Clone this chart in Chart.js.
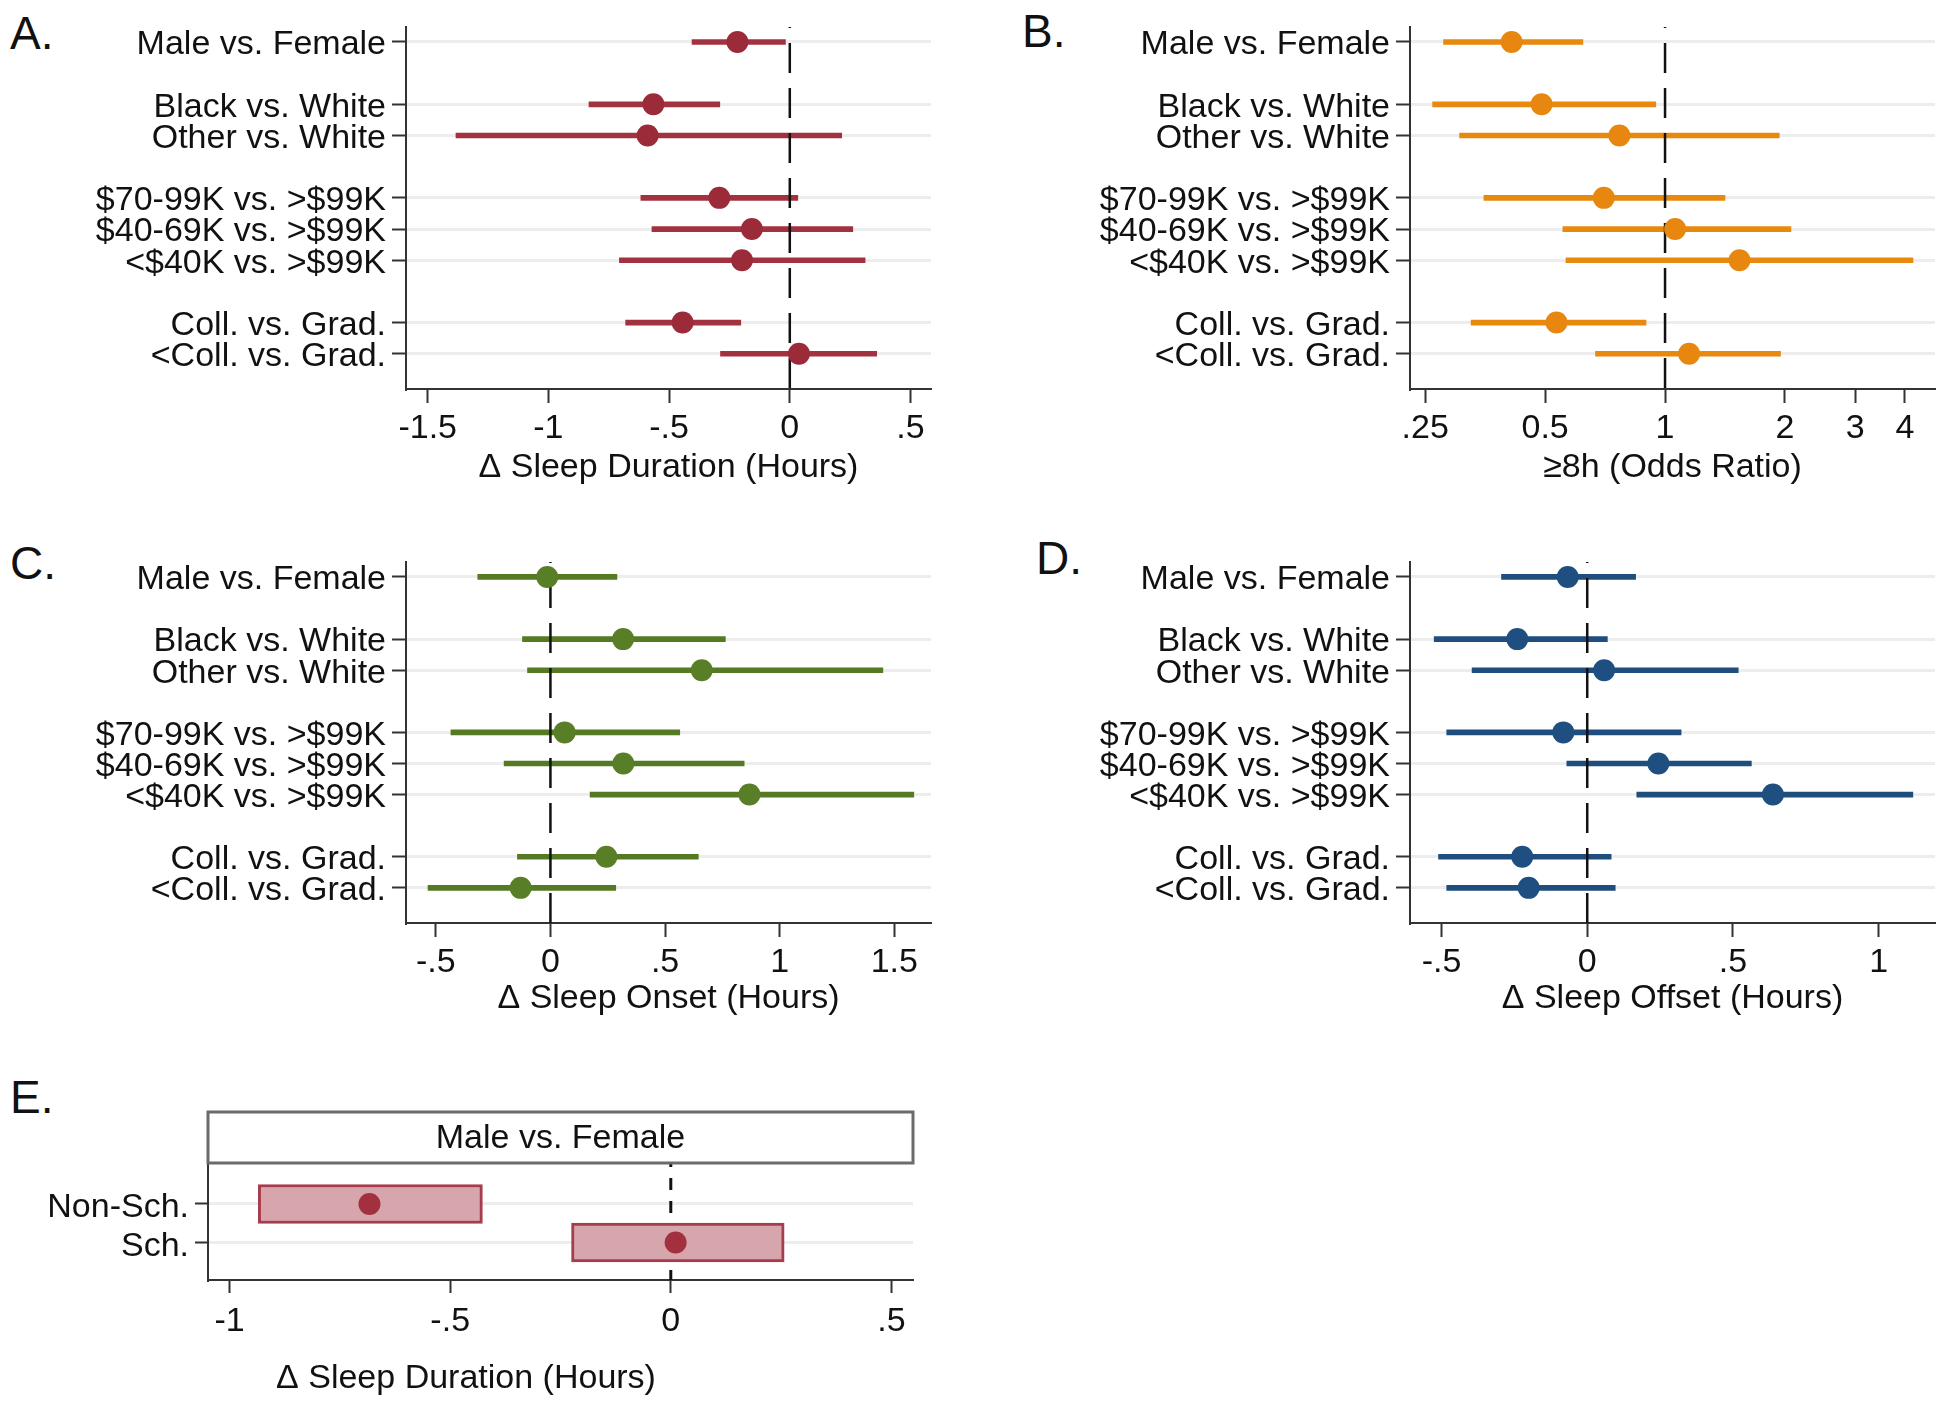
<!DOCTYPE html>
<html>
<head>
<meta charset="utf-8">
<script src="https://cdn.jsdelivr.net/npm/chart.js@4.4.1/dist/chart.umd.min.js"></script>
<style>
  body { margin: 0; background: #fff; }
  #wrap { position: relative; width: 1950px; height: 1408px; background: #fff; font-family: "Liberation Sans", Arial, sans-serif; }
  #wrap canvas { position: absolute; }
  .tag { position: absolute; font-size: 46px; line-height: 46px; color: #111; }
</style>
</head>
<body>
<div id="wrap">
  <div class="tag" style="left:10px;top:10px">A.</div>
  <div class="tag" style="left:1022px;top:8px">B.</div>
  <div class="tag" style="left:10px;top:540px">C.</div>
  <div class="tag" style="left:1036px;top:535px">D.</div>
  <div class="tag" style="left:10px;top:1074px">E.</div>
  <canvas id="chartA" width="975" height="500" style="left:0;top:0"></canvas>
  <canvas id="chartB" width="975" height="500" style="left:975px;top:0"></canvas>
  <canvas id="chartC" width="975" height="500" style="left:0;top:535px"></canvas>
  <canvas id="chartD" width="975" height="500" style="left:975px;top:535px"></canvas>
  <canvas id="chartE" width="932" height="368" style="left:0;top:1040px"></canvas>
</div>
<script>
const FONT = '"Liberation Sans", Arial, sans-serif';

// comparison groups (one empty row between groups)
const rowGroups = [
    ['Male vs. Female'],
    ['Black vs. White', 'Other vs. White'],
    ['$70-99K vs. >$99K', '$40-69K vs. >$99K', '<$40K vs. >$99K'],
    ['Coll. vs. Grad.', '<Coll. vs. Grad.']
];

// A. sleep duration (hours)
const durEst = [-0.217, -0.565, -0.589, -0.292, -0.157, -0.198, -0.444, 0.038];
const durLo  = [-0.405, -0.832, -1.383, -0.617, -0.571, -0.706, -0.680, -0.287];
const durHi  = [-0.018, -0.290,  0.215,  0.033,  0.261,  0.312, -0.203,  0.360];
const durTicks = [-1.5, -1, -0.5, 0, 0.5];
const durTickLabels = ['-1.5', '-1', '-.5', '0', '.5'];

// B. >=8h odds ratio
const oddsEst = [0.412, 0.490, 0.768, 0.702, 1.060, 1.538, 0.534, 1.149];
const oddsLo  = [0.278, 0.261, 0.305, 0.351, 0.554, 0.564, 0.326, 0.669];
const oddsHi  = [0.622, 0.948, 1.935, 1.414, 2.070, 4.190, 0.896, 1.949];
const oddsTicks = [0.25, 0.5, 1, 2, 3, 4];
const oddsTickLabels = ['.25', '0.5', '1', '2', '3', '4'];

// C. sleep onset (hours)
const onsetEst = [-0.014, 0.317, 0.660, 0.062, 0.318, 0.868, 0.244, -0.130];
const onsetLo  = [-0.317, -0.122, -0.100, -0.434, -0.202, 0.173, -0.144, -0.534];
const onsetHi  = [0.290, 0.763, 1.450, 0.564, 0.845, 1.585, 0.645, 0.285];
const onsetTicks = [-0.5, 0, 0.5, 1, 1.5];
const onsetTickLabels = ['-.5', '0', '.5', '1', '1.5'];

// D. sleep offset (hours)
const offsetEst = [-0.067, -0.240, 0.058, -0.082, 0.244, 0.637, -0.223, -0.201];
const offsetLo  = [-0.294, -0.525, -0.395, -0.482, -0.070, 0.170, -0.510, -0.482];
const offsetHi  = [0.166, 0.069, 0.518, 0.322, 0.563, 1.117, 0.082, 0.096];
const offsetTicks = [-0.5, 0, 0.5, 1];
const offsetTickLabels = ['-.5', '0', '.5', '1'];

// E. male vs female by school status
const schoolRows = ['Non-Sch.', 'Sch.'];
const schoolEst = [-0.683, 0.011];
const schoolLo  = [-0.935, -0.225];
const schoolHi  = [-0.427, 0.257];
const schoolTicks = [-1, -0.5, 0, 0.5];
const schoolTickLabels = ['-1', '-.5', '0', '.5'];

// row index of every comparison, skipping one slot between groups
const rowLabels = [];
const rowPos = [];
let slot = 0;
rowGroups.forEach(g => {
    g.forEach(lab => { rowLabels.push(lab); rowPos.push(slot); slot++; });
    slot++;
});

function drawRef(chart, o) {
    const x = chart.scales.x.getPixelForValue(o.value);
    const a = chart.chartArea;
    const ctx = chart.ctx;
    ctx.save();
    ctx.strokeStyle = '#111';
    ctx.lineWidth = o.width;
    ctx.setLineDash(o.dash);
    ctx.lineDashOffset = o.dashOffset;
    ctx.beginPath();
    ctx.moveTo(x, a.top);
    ctx.lineTo(x, a.bottom);
    ctx.stroke();
    ctx.restore();
}

const refLinePlugin = {
    id: 'refLine',
    beforeDatasetsDraw(chart, args, opts) {
        if (opts.value !== undefined && !opts.above) drawRef(chart, opts);
    },
    afterDatasetDraw(chart, args, opts) {
        if (opts.value !== undefined && opts.above && args.index === 0) drawRef(chart, opts);
    }
};

// strip header + free caption for panel E
const stripPlugin = {
    id: 'strip',
    afterDraw(chart, args, opts) {
        if (!opts.header) return;
        const ctx = chart.ctx;
        const a = chart.chartArea;
        ctx.save();
        ctx.strokeStyle = '#6b6b6b';
        ctx.lineWidth = 3;
        ctx.strokeRect(a.left, a.top - opts.height, a.right - a.left, opts.height);
        ctx.fillStyle = '#111';
        ctx.font = '34px ' + FONT;
        ctx.textAlign = 'center';
        ctx.textBaseline = 'middle';
        ctx.fillText(opts.header, (a.left + a.right) / 2, a.top - opts.height / 2 + 1);
        ctx.fillText(opts.caption, opts.captionX, opts.captionY);
        ctx.restore();
    }
};

function axisStyle(tickLen) {
    return {
        grid: { drawOnChartArea: false, offset: false, tickLength: tickLen, tickColor: '#333', tickWidth: 2, color: '#333' },
        border: { display: true, color: '#333', width: 2 }
    };
}

function makePanel(id, p) {
    const ctx = document.getElementById(id).getContext('2d');
    const ax = axisStyle(14);
    return new Chart(ctx, {
        type: 'scatter',
        data: {
            datasets: [{
                type: 'bar',
                indexAxis: 'y',
                data: rowPos.map((y, i) => ({ x: [p.lo[i], p.hi[i]], y: y })),
                backgroundColor: p.lineColor,
                borderWidth: 0,
                barThickness: 5,
                order: 2
            }, {
                type: 'scatter',
                data: rowPos.map((y, i) => ({ x: p.est[i], y: y })),
                pointRadius: 11,
                pointBackgroundColor: p.dotColor,
                pointBorderWidth: 0,
                order: 1
            }]
        },
        options: {
            responsive: false,
            animation: false,
            events: [],
            layout: { padding: { left: 0, right: p.padRight, top: 27, bottom: 0 } },
            plugins: {
                legend: { display: false },
                tooltip: { enabled: false },
                refLine: { value: p.ref, above: true, dash: [30, 15], dashOffset: 29, width: 2.5 }
            },
            scales: {
                x: {
                    type: p.xType,
                    min: p.xMin,
                    max: p.xMax,
                    bounds: 'data',
                    offset: false,
                    beginAtZero: false,
                    afterBuildTicks: s => { s.ticks = p.ticks.map(v => ({ value: v })); },
                    afterFit: s => { s.height = p.xHeight; },
                    grid: ax.grid,
                    border: ax.border,
                    ticks: {
                        font: { family: FONT, size: 34 }, color: '#111', padding: 5,
                        maxRotation: 0, autoSkip: false,
                        callback: v => p.tickLabels[p.ticks.indexOf(v)]
                    },
                    title: {
                        display: true, text: p.title, color: '#111',
                        font: { family: FONT, size: 34 },
                        padding: { top: 0, bottom: p.titlePad }
                    }
                },
                y: {
                    type: 'linear',
                    reverse: true,
                    min: -0.48,
                    max: 11.13,
                    bounds: 'data',
                    offset: false,
                    afterBuildTicks: s => { s.ticks = rowPos.map(v => ({ value: v })); },
                    afterFit: s => { s.width = p.yWidth; },
                    grid: { color: '#ededed', lineWidth: 3, offset: false, tickLength: 14, tickColor: '#333', tickWidth: 2 },
                    border: ax.border,
                    ticks: {
                        font: { family: FONT, size: 34 }, color: '#111', padding: 6, autoSkip: false,
                        labelOffset: 3,
                        callback: v => rowLabels[rowPos.indexOf(v)]
                    }
                }
            }
        },
        plugins: [refLinePlugin]
    });
}

makePanel('chartA', {
    est: durEst, lo: durLo, hi: durHi, xType: 'linear', xMin: -1.59, xMax: 0.585,
    ticks: durTicks, tickLabels: durTickLabels, title: 'Δ Sleep Duration (Hours)', ref: 0,
    lineColor: '#a33241', dotColor: '#9c2b3a', padRight: 44, yWidth: 406, xHeight: 111, titlePad: 12
});

makePanel('chartB', {
    est: oddsEst, lo: oddsLo, hi: oddsHi, xType: 'logarithmic', xMin: 0.229, xMax: 4.76,
    ticks: oddsTicks, tickLabels: oddsTickLabels, title: '≥8h (Odds Ratio)', ref: 1,
    lineColor: '#e8890f', dotColor: '#e8870f', padRight: 15, yWidth: 435, xHeight: 111, titlePad: 12
});

makePanel('chartC', {
    est: onsetEst, lo: onsetLo, hi: onsetHi, xType: 'linear', xMin: -0.63, xMax: 1.66,
    ticks: onsetTicks, tickLabels: onsetTickLabels, title: 'Δ Sleep Onset (Hours)', ref: 0,
    lineColor: '#567a24', dotColor: '#597e28', padRight: 44, yWidth: 406, xHeight: 112, titlePad: 16
});

makePanel('chartD', {
    est: offsetEst, lo: offsetLo, hi: offsetHi, xType: 'linear', xMin: -0.608, xMax: 1.193,
    ticks: offsetTicks, tickLabels: offsetTickLabels, title: 'Δ Sleep Offset (Hours)', ref: 0,
    lineColor: '#1e4d7e', dotColor: '#1f4e80', padRight: 15, yWidth: 435, xHeight: 112, titlePad: 16
});

// panel E: boxes for the CI
const axE = axisStyle(13);
new Chart(document.getElementById('chartE').getContext('2d'), {
    type: 'scatter',
    data: {
        datasets: [{
            type: 'bar',
            indexAxis: 'y',
            data: schoolRows.map((lab, i) => ({ x: [schoolLo[i], schoolHi[i]], y: i + 1 })),
            backgroundColor: '#d7a5ac',
            borderColor: '#a63c4c',
            borderWidth: 3,
            borderSkipped: false,
            barThickness: 39,
            order: 2
        }, {
            type: 'scatter',
            data: schoolRows.map((lab, i) => ({ x: schoolEst[i], y: i + 1 })),
            pointRadius: 11,
            pointBackgroundColor: '#a3303f',
            pointBorderWidth: 0,
            order: 1
        }]
    },
    options: {
        responsive: false,
        animation: false,
        events: [],
        layout: { padding: { left: 0, right: 19, top: 123, bottom: 0 } },
        plugins: {
            legend: { display: false },
            tooltip: { enabled: false },
            refLine: { value: 0, above: false, dash: [12, 11], dashOffset: 8, width: 3 },
            strip: { header: 'Male vs. Female', height: 51, caption: 'Δ Sleep Duration (Hours)', captionX: 466, captionY: 339 }
        },
        scales: {
            x: {
                type: 'linear', min: -1.049, max: 0.549, bounds: 'data', offset: false, beginAtZero: false,
                afterBuildTicks: s => { s.ticks = schoolTicks.map(v => ({ value: v })); },
                afterFit: s => { s.height = 128; },
                grid: axE.grid,
                border: axE.border,
                ticks: {
                    font: { family: FONT, size: 34 }, color: '#111', padding: 8, maxRotation: 0, autoSkip: false,
                    callback: v => schoolTickLabels[schoolTicks.indexOf(v)]
                }
            },
            y: {
                type: 'linear', reverse: true, min: -0.065, max: 2.975, bounds: 'data', offset: false,
                afterBuildTicks: s => { s.ticks = schoolRows.map((lab, i) => ({ value: i + 1 })); },
                afterFit: s => { s.width = 208; },
                grid: { color: '#ededed', lineWidth: 3, offset: false, tickLength: 13, tickColor: '#333', tickWidth: 2 },
                border: axE.border,
                ticks: {
                    font: { family: FONT, size: 34 }, color: '#111', padding: 6, autoSkip: false,
                    labelOffset: 4,
                    callback: v => schoolRows[v - 1]
                }
            }
        }
    },
    plugins: [refLinePlugin, stripPlugin]
});
</script>
</body>
</html>
